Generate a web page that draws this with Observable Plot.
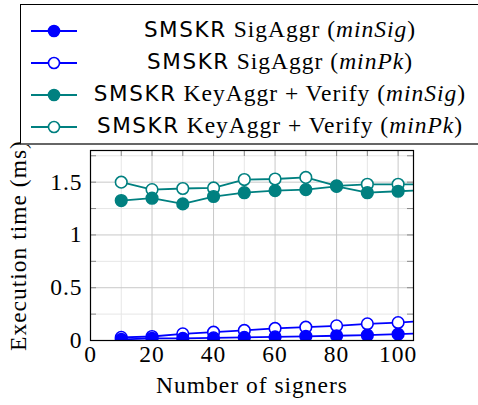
<!DOCTYPE html>
<html><head><meta charset="utf-8">
<script src="https://cdn.jsdelivr.net/npm/d3@7"></script>
<script src="https://cdn.jsdelivr.net/npm/@observablehq/plot@0.6"></script>
<style>
body{margin:0;background:#fff;overflow:hidden;width:478px;height:405px;position:relative;}
#chart{position:absolute;left:0;top:0;}
#chart svg text{letter-spacing:1px;}
#legend{position:absolute;left:20px;top:4px;width:480px;height:141px;background:#fff;border:1px solid #000;border-bottom:2px solid #666;box-sizing:border-box;font-family:"Liberation Serif",serif;font-size:23.5px;letter-spacing:1px;color:#000;}
.row{position:absolute;left:0;width:458px;height:30px;}
.row svg{position:absolute;left:8px;top:4px;}
.row .t{position:absolute;left:60px;right:0;text-align:center;top:0px;white-space:nowrap;}
.sans{font-family:"DejaVu Sans",sans-serif;font-size:21.5px;letter-spacing:1.6px;}
i{font-style:italic;}
</style></head>
<body>
<div id="chart"></div>
<div id="legend"></div>
<script>
const signers = [10, 20, 30, 40, 50, 60, 70, 80, 90, 100, 110];
const sigAggrMinSig = [0.010, 0.020, 0.020, 0.025, 0.030, 0.035, 0.040, 0.045, 0.050, 0.060, 0.070];
const sigAggrMinPk  = [0.030, 0.038, 0.063, 0.079, 0.095, 0.114, 0.126, 0.139, 0.158, 0.170, 0.190];
const keyVerMinSig  = [1.326, 1.348, 1.294, 1.364, 1.400, 1.420, 1.430, 1.460, 1.400, 1.414, 1.425];
const keyVerMinPk   = [1.500, 1.430, 1.440, 1.445, 1.525, 1.530, 1.545, 1.465, 1.480, 1.480, 1.480];
const xTicks = [0, 20, 40, 60, 80, 100];
const xMinor = [10, 30, 50, 70, 90];
const yTicks = [0, 0.5, 1, 1.5];
const yMinor = [0.25, 0.75, 1.25, 1.75];
const blue = "#0000ff", teal = "#008080";

const series = [
  {name: "minPk", values: sigAggrMinPk, color: blue, open: true},
  {name: "minSig", values: sigAggrMinSig, color: blue, open: false},
  {name: "minPk", values: keyVerMinPk, color: teal, open: true},
  {name: "minSig", values: keyVerMinSig, color: teal, open: false}
];

const marks = [
  Plot.ruleX(xMinor, {stroke: "#e6e6e6", strokeWidth: 1}),
  Plot.ruleY(yMinor, {stroke: "#e6e6e6", strokeWidth: 1}),
  Plot.ruleX(xTicks, {stroke: "#c8c8c8", strokeWidth: 1}),
  Plot.ruleY(yTicks, {stroke: "#c8c8c8", strokeWidth: 1}),
  Plot.tickX(xTicks.concat(xMinor), {x: d => d, stroke: "#888", insetTop: 184}),
  Plot.tickX(xTicks.concat(xMinor), {x: d => d, stroke: "#888", insetBottom: 184}),
  Plot.tickY(yTicks.concat(yMinor), {y: d => d, stroke: "#888", insetRight: 317}),
  Plot.tickY(yTicks.concat(yMinor), {y: d => d, stroke: "#888", insetLeft: 317})
];
for (const s of series) {
  const data = signers.map((x, i) => ({x, y: s.values[i]}));
  marks.push(Plot.line(data, {x: "x", y: "y", stroke: s.color, strokeWidth: 1.8, clip: true}));
  marks.push(Plot.dot(data, {x: "x", y: "y", r: 5.8, stroke: s.color, strokeWidth: 1.6,
    fill: s.open ? "white" : s.color, clip: true}));
}
marks.push(Plot.frame({stroke: "#000", strokeWidth: 1.2}));
marks.push(Plot.axisX(xTicks, {tickSize: 0, tickPadding: 5, fontSize: 23.5, label: null, fill: "black"}));
marks.push(Plot.axisY(yTicks, {tickSize: 0, tickPadding: 8, fontSize: 23.5, label: null, fill: "black", tickFormat: d => String(d)}));
marks.push(Plot.text(["Number of signers"], {frameAnchor: "bottom", dy: 52, fontSize: 23.5, fill: "black"}));
marks.push(Plot.text(["Execution time (ms)"], {frameAnchor: "left", textAnchor: "middle", dx: -72, rotate: -90, fontSize: 23.5, fill: "black"}));

const chart = Plot.plot({
  width: 478, height: 405,
  marginLeft: 90, marginRight: 65, marginTop: 150, marginBottom: 65,
  x: {domain: [0, 105]},
  y: {domain: [0, 1.8]},
  style: {fontFamily: "Liberation Serif, serif", fontSize: "23.5px", color: "#000", background: "white"},
  marks
});
document.getElementById("chart").appendChild(chart);

const legendItems = [
  {color: blue, open: false, html: '<span class="sans">SMSKR</span> SigAggr (<i>minSig</i>)'},
  {color: blue, open: true, html: '<span class="sans">SMSKR</span> SigAggr (<i>minPk</i>)'},
  {color: teal, open: false, html: '<span class="sans">SMSKR</span> KeyAggr + Verify (<i>minSig</i>)'},
  {color: teal, open: true, html: '<span class="sans">SMSKR</span> KeyAggr + Verify (<i>minPk</i>)'}
];
const lg = document.getElementById("legend");
legendItems.forEach((it, i) => {
  const row = document.createElement("div");
  row.className = "row";
  row.style.top = (11 + i * 32) + "px";
  row.innerHTML = `<svg width="50" height="22"><line x1="2" x2="48" y1="11" y2="11" stroke="${it.color}" stroke-width="1.8"/><circle cx="25" cy="11" r="5.5" stroke="${it.color}" stroke-width="1.6" fill="${it.open ? "white" : it.color}"/></svg><div class="t">${it.html}</div>`;
  lg.appendChild(row);
});
</script>
</body></html>
